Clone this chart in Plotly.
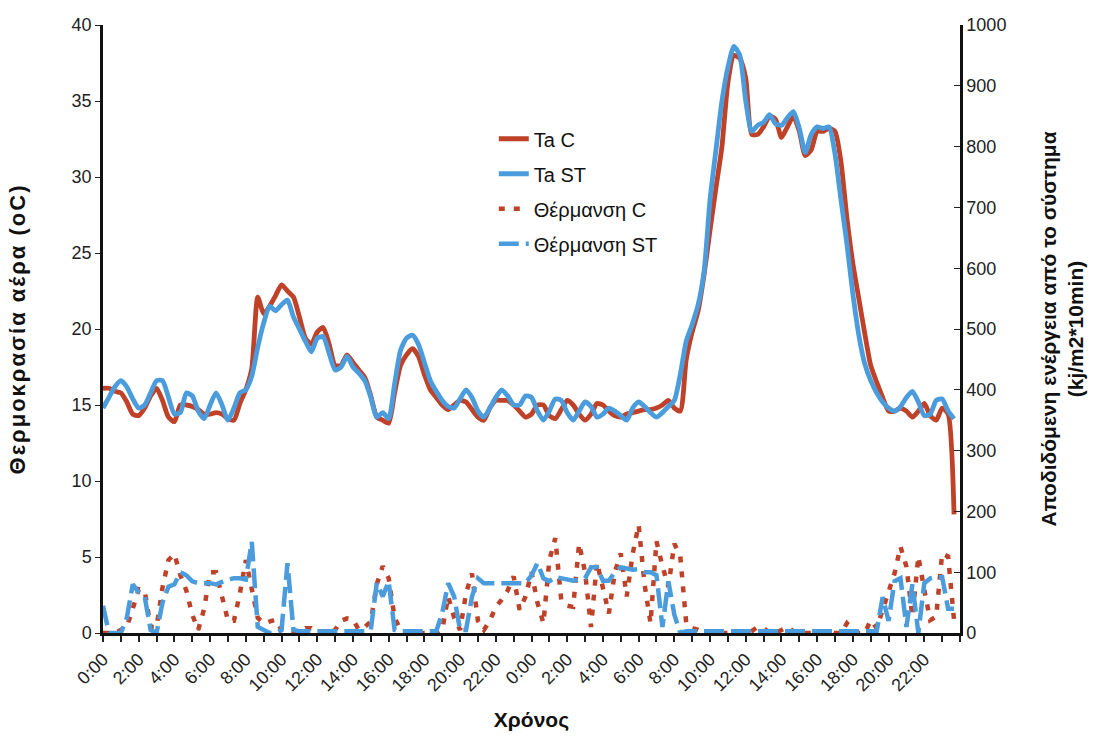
import numpy as np
import plotly.graph_objects as go
from plotly.subplots import make_subplots

# 20-minute samples over two days (hours from the first midnight)
hours = np.arange(144) / 3.0

tick_hours = list(range(0, 48, 2))
tick_labels = [f"{h % 24}:00" for h in tick_hours]

# Air temperature, control greenhouse (oC)
ta_c = [
    16.1, 16.1, 15.9, 15.8, 15.2, 14.4, 14.3, 14.8, 15.6, 16.1, 15.3, 14.2,
    13.9, 15.0, 15.0, 14.9, 14.7, 14.4, 14.4, 14.5, 14.4, 14.1, 14.0, 15.1,
    16.0, 17.4, 22.1, 21.0, 21.5, 22.2, 22.9, 22.5, 22.1, 20.8, 19.4, 19.0,
    19.8, 20.1, 19.0, 17.6, 17.6, 18.3, 17.8, 17.3, 16.8, 15.6, 14.2, 14.0,
    13.8, 15.8, 17.6, 18.3, 18.7, 18.2, 17.0, 16.0, 15.5, 15.0, 14.7, 15.0,
    15.3, 15.2, 14.7, 14.2, 14.0, 14.8, 15.3, 15.3, 15.3, 15.0, 14.6, 14.2,
    14.4, 15.0, 15.0, 14.3, 14.1, 14.7, 15.3, 15.0, 14.4, 14.0, 14.4, 15.1,
    15.0, 14.6, 14.3, 14.2, 14.4, 14.5, 14.6, 14.7, 14.7, 14.8, 15.0, 15.3,
    14.8, 14.6, 18.0, 19.8, 21.2, 23.6, 26.5, 29.3, 32.0, 36.2, 38.0, 37.8,
    36.5, 32.8, 32.8, 33.3, 34.0, 33.8, 32.6, 33.3, 34.0, 33.0, 31.4, 31.8,
    33.0, 33.0, 33.2, 33.0, 31.0, 27.3, 24.3, 22.0, 19.7, 17.6, 16.5, 15.5,
    14.6, 14.6, 14.8, 14.6, 14.2, 14.6, 15.1, 14.3, 14.0, 14.8, 14.4, 7.8,
]

# Air temperature, greenhouse with storage system (oC)
ta_st = [
    14.8, 15.5, 16.2, 16.6, 16.2, 15.4, 14.8, 15.0, 15.8, 16.6, 16.6, 15.5,
    14.4, 14.5, 15.8, 15.6, 14.6, 14.1, 15.0, 15.8, 15.0, 14.0, 14.8, 15.8,
    16.0, 16.9, 18.8, 20.4, 21.5, 21.2, 21.6, 21.9, 20.8, 20.0, 19.2, 18.5,
    19.4, 19.5, 18.4, 17.3, 17.5, 18.2, 17.5, 17.1, 16.6, 15.5, 14.2, 14.5,
    14.1, 16.4, 18.6, 19.4, 19.6, 19.0, 17.8, 16.6, 15.9, 15.3, 14.9, 14.8,
    15.4, 16.0, 15.5, 14.6, 14.2, 14.8, 15.5, 16.0, 15.6, 15.0, 15.0, 15.6,
    15.5, 14.6, 14.0, 14.6, 15.4, 15.3, 14.5, 14.0, 14.6, 15.2, 14.9, 14.2,
    14.4, 14.8, 14.6, 14.3, 14.0, 14.8, 15.2, 14.9, 14.5, 14.2, 14.5, 14.9,
    15.3, 17.0, 19.2, 20.3, 21.6, 23.8, 28.5, 31.8, 35.0, 37.2, 38.6, 38.0,
    35.0, 33.0, 33.4, 33.6, 34.1, 33.5, 33.4, 33.9, 34.3, 33.2, 31.6, 32.8,
    33.3, 33.2, 33.3, 31.5, 28.5, 25.6, 22.3, 19.6, 17.7, 16.6, 15.8, 15.2,
    14.8, 14.6, 14.9, 15.5, 15.9, 15.2, 14.3, 14.4, 15.3, 15.4, 14.6, 14.1,
]

# Heat delivered, control heating (kJ/m2 per 10 min)
heat_c = [
    0, 0, 0, 5, 10, 40, 72, 70, 10, 10, 75, 120,
    130, 95, 70, 30, 5, 40, 100, 100, 60, 20, 20, 65,
    120, 70, 25, 16, 20, 22, 5, 0, 0, 3, 8, 8,
    0, 0, 0, 5, 20, 24, 22, 5, 10, 19, 80, 110,
    90, 25, 5, 0, 0, 0, 0, 0, 0, 5, 60, 25,
    5, 65, 98, 20, 5, 20, 43, 55, 70, 93, 38, 60,
    100, 50, 16, 120, 156, 54, 45, 43, 147, 100, 10, 116,
    70, 32, 100, 131, 60, 130, 178, 80, 16, 151, 110, 76,
    147, 126, 16, 8, 5, 0, 0, 0, 0, 0, 0, 0,
    0, 3, 10, 8, 0, 0, 5, 10, 3, 0, 0, 0,
    0, 0, 5, 0, 0, 16, 5, 0, 0, 21, 8, 40,
    70, 98, 142, 109, 27, 126, 71, 21, 27, 131, 126, 21,
]

# Heat delivered by the storage system (kJ/m2 per 10 min)
heat_st = [
    45, 0, 0, 0, 25, 80, 67, 60, 5, 0, 50, 76,
    80, 100, 95, 85, 82, 82, 82, 80, 85, 88, 90, 90,
    88, 150, 10, 5, 0, 0, 5, 115, 5, 3, 3, 3,
    3, 3, 3, 3, 3, 3, 3, 3, 3, 5, 82, 60,
    85, 5, 3, 3, 3, 3, 3, 3, 3, 33, 82, 60,
    5, 5, 60, 90, 82, 82, 82, 82, 82, 82, 82, 82,
    95, 115, 90, 85, 92, 90, 88, 86, 88, 90, 108, 108,
    86, 86, 100, 108, 106, 104, 105, 100, 100, 95, 10, 85,
    30, 0, 3, 3, 3, 3, 3, 3, 3, 3, 3, 3,
    3, 3, 3, 3, 3, 3, 3, 3, 3, 3, 3, 3,
    3, 3, 3, 3, 3, 3, 3, 3, 3, 3, 3, 59,
    20, 85, 90, 10, 80, 0, 82, 90, 92, 92, 40, 40,
]

RED = "#BE4128"
BLUE = "#4B9CDC"
FONT = "Liberation Sans, Arial, sans-serif"
NARROW = "Liberation Sans Narrow, Liberation Sans, Arial, sans-serif"

fig = make_subplots(specs=[[{"secondary_y": True}]])

fig.add_trace(go.Scatter(x=hours, y=heat_c, name="Θέρμανση C", mode="lines",
                         line=dict(color=RED, width=4.5, dash="6px,9px"),
                         legendrank=3, legendgroup="c3"), secondary_y=True)
fig.add_trace(go.Scatter(x=hours, y=heat_st, name="Θέρμανση ST", mode="lines",
                         line=dict(color=BLUE, width=4.5, dash="20px,7px"),
                         legendrank=4, legendgroup="c4"), secondary_y=True)
fig.add_trace(go.Scatter(x=hours, y=ta_c, name="Ta C", mode="lines",
                         line=dict(color=RED, width=4.8, shape="spline", smoothing=0.6),
                         legendrank=1, legendgroup="c1"), secondary_y=False)
fig.add_trace(go.Scatter(x=hours, y=ta_st, name="Ta ST", mode="lines",
                         line=dict(color=BLUE, width=4.8, shape="spline", smoothing=0.6),
                         legendrank=2, legendgroup="c2"), secondary_y=False)

fig.update_layout(
    width=1094, height=739,
    margin=dict(l=103, r=134, t=25, b=106, autoexpand=False),
    paper_bgcolor="white", plot_bgcolor="white",
    font=dict(family=FONT, size=18, color="#222"),
    showlegend=True,
    legend=dict(x=0.456, y=0.845, xanchor="left", yanchor="top",
                bgcolor="rgba(255,255,255,0)", font=dict(size=20, color="#111"),
                traceorder="grouped", tracegroupgap=6),
)

fig.update_xaxes(
    domain=[0, 1],
    range=[0, 48], tickvals=tick_hours, ticktext=tick_labels, tickangle=-45,
    ticks="outside", ticklen=6, tickcolor="#222", tickwidth=1.5,
    minor=dict(dtick=1, ticks="outside", ticklen=6, tickcolor="#222", tickwidth=1.5),
    showline=True, linecolor="#111", linewidth=2.5, showgrid=False, zeroline=False,
    tickfont=dict(size=18, color="#222"), automargin=False,
    title=dict(text="<b>Χρόνος</b>", font=dict(size=21, color="#111"), standoff=18),
)

fig.update_yaxes(
    range=[0, 40], dtick=5, ticks="outside", ticklen=5, tickcolor="#222",
    showline=True, linecolor="#111", linewidth=2.5, showgrid=False, zeroline=False,
    tickfont=dict(size=18, color="#222"), automargin=False,
    title=dict(text="<span style='letter-spacing:2px'><b>Θερμοκρασία αέρα (oC)</b></span>",
               font=dict(size=22, color="#111"), standoff=40),
    secondary_y=False,
)

fig.update_yaxes(
    range=[0, 1000], dtick=100, ticks="inside", ticklen=6, tickcolor="#222",
    showline=True, linecolor="#111", linewidth=2.5, showgrid=False, zeroline=False,
    tickfont=dict(size=18, color="#222"), automargin=False,
    title=dict(text="<b>Αποδιδόμενη ενέργεια από το σύστημα<br>(kj/m2*10min)</b>",
               font=dict(family=NARROW, size=21, color="#111"), standoff=36),
    secondary_y=True,
)

fig.write_html("out.html")
